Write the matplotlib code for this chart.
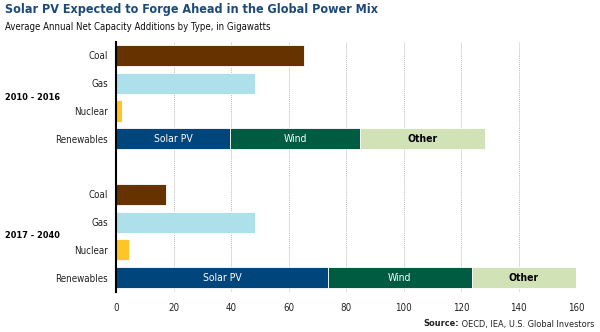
import matplotlib
matplotlib.use("Agg")
import matplotlib.pyplot as plt

periods = ["2010 - 2016", "2017 - 2040"]
categories = ["Coal", "Gas", "Nuclear", "Renewables"]
coal = [65.4, 17.4]
gas = [48.3, 48.3]
nuclear = [2.1, 4.5]
solar_pv = [39.7, 73.7]
wind = [45.2, 50.1]
other = [43.4, 36.2]
xticks = [0, 20, 40, 60, 80, 100, 120, 140, 160]

plt.rcParams["font.family"] = ["DejaVu Sans"]
plt.rcParams["font.stretch"] = "condensed"

C_COAL = "#663300"
C_GAS = "#ade0ea"
C_NUC = "#ffc425"
C_SOLAR = "#00457c"
C_WIND = "#005c41"
C_OTHER = "#d1e2b7"

fig = plt.figure(figsize=(6.0, 3.32), dpi=100)
ax = fig.add_axes([116/600, 1-291.5/332, 460/600, 250/332])

h = 0.76
for p in range(2):
    base = p * 5
    yc, yg, yn, yr = base, base + 1, base + 2, base + 3
    ax.barh(yc, coal[p], height=h, color=C_COAL, edgecolor="white", linewidth=0.6, zorder=3)
    ax.barh(yg, gas[p], height=h, color=C_GAS, edgecolor="white", linewidth=0.6, zorder=3)
    ax.barh(yn, nuclear[p], height=h, color=C_NUC, edgecolor="white", linewidth=0.6, zorder=3)
    left = 0
    for val, col, lab, tc, fw in [(solar_pv[p], C_SOLAR, "Solar PV", "white", "normal"),
                                   (wind[p], C_WIND, "Wind", "white", "normal"),
                                   (other[p], C_OTHER, "Other", "black", "bold")]:
        ax.barh(yr, val, left=left, height=h, color=col, edgecolor="white", linewidth=0.6, zorder=3)
        ax.text(left + val / 2, yr, lab, ha="center", va="center", color=tc,
                fontsize=7.5, fontweight=fw, zorder=4)
        left += val

ax.set_xlim(0, 160)
ax.set_ylim(8.5, -0.5)
ax.set_xticks(xticks)
ax.set_xticklabels([str(t) for t in xticks], fontsize=7, color="#222222")
ypos = [0, 1, 2, 3, 5, 6, 7, 8]
ax.set_yticks(ypos)
ax.set_yticklabels(categories * 2, fontsize=7, color="#222222")
ax.tick_params(axis="both", length=0)
ax.tick_params(axis="y", pad=6)
ax.tick_params(axis="x", pad=8)
for s in ["top", "right", "bottom"]:
    ax.spines[s].set_visible(False)
ax.spines["left"].set_color("black")
ax.spines["left"].set_linewidth(1.5)
ax.spines["left"].set_zorder(5)
ax.grid(axis="x", color="#bbbbbb", linestyle=(0, (1, 1)), linewidth=0.7, zorder=0)
ax.set_axisbelow(True)

for p, yy in enumerate([1.5, 6.5]):
    fig.text(5/600, ax.transData.transform((0, yy))[1] / 332, periods[p],
             fontsize=6.6, fontweight="bold", va="center", ha="left", color="black")

fig.text(5/600, 1 - 10/332, "Solar PV Expected to Forge Ahead in the Global Power Mix",
         fontsize=9, fontweight="bold", color="#1b4a7a", va="center", ha="left")
fig.text(5/600, 1 - 27/332, "Average Annual Net Capacity Additions by Type, in Gigawatts",
         fontsize=6.9, color="#111111", va="center", ha="left")

src = fig.text(594/600, 1 - 324/332, " OECD, IEA, U.S. Global Investors",
               fontsize=6.6, color="#222222", va="center", ha="right")
fig.canvas.draw()
bb = src.get_window_extent(renderer=fig.canvas.get_renderer())
fig.text(bb.x0 / 600, 1 - 324/332, "Source:", fontsize=6.6, fontweight="bold",
         color="#222222", va="center", ha="right")

fig.savefig("out.png", dpi=100)
